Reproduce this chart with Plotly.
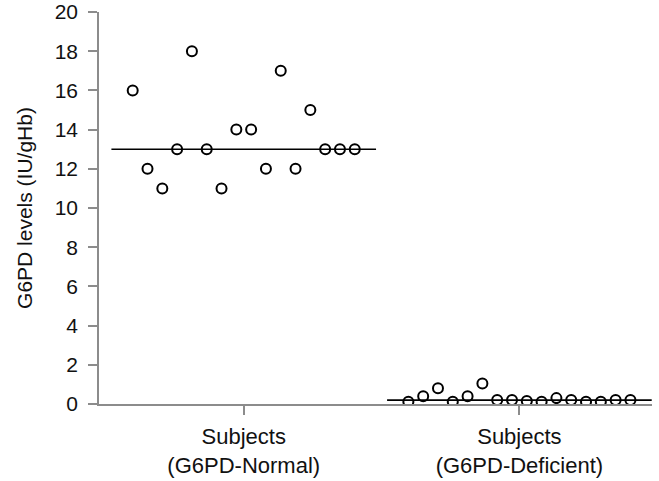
import plotly.graph_objects as go
import numpy as np

groups = ["Subjects<br>(G6PD-Normal)", "Subjects<br>(G6PD-Deficient)"]
normal_values = [16, 12, 11, 13, 18, 13, 11, 14, 14, 12, 17, 12, 15, 13, 13, 13]
deficient_values = [0.12, 0.4, 0.8, 0.12, 0.4, 1.05, 0.2, 0.2, 0.15, 0.12, 0.3, 0.2, 0.12, 0.12, 0.2, 0.2]
y_ticks = [0, 2, 4, 6, 8, 10, 12, 14, 16, 18, 20]

FONT = "Liberation Sans, Arial, sans-serif"
step = 0.0537
half = 0.48

fig = go.Figure()
for gi, vals in enumerate([normal_values, deficient_values]):
    n = len(vals)
    xs = [gi + (j - (n - 1) / 2) * step for j in range(n)]
    med = float(np.median(vals))
    fig.add_trace(go.Scatter(
        x=[gi - half, gi + half], y=[med, med], mode="lines",
        line=dict(color="black", width=1.6), hoverinfo="skip", showlegend=False))
    fig.add_trace(go.Scatter(
        x=xs, y=vals, mode="markers",
        marker=dict(symbol="circle-open", size=10, color="black", line=dict(width=2, color="black")),
        showlegend=False))

fig.update_layout(
    width=659, height=481,
    margin=dict(l=99, r=7, t=12, b=77),
    plot_bgcolor="white", paper_bgcolor="white",
    font=dict(family=FONT, size=21, color="#111111"),
)
fig.update_xaxes(
    range=[-0.525, 1.481],
    tickmode="array", tickvals=[0, 1], ticktext=groups,
    showline=True, linecolor="#8c8c8c", linewidth=1.5,
    ticks="outside", ticklen=9, tickcolor="#8c8c8c", tickwidth=1.5,
    ticklabelstandoff=3,
    showgrid=False, zeroline=False, automargin=False,
    tickfont=dict(family=FONT, size=22, color="#111111"),
)
fig.update_yaxes(
    range=[0, 20],
    tickmode="array", tickvals=y_ticks,
    showline=True, linecolor="#8c8c8c", linewidth=1.5,
    ticks="outside", ticklen=9, tickcolor="#8c8c8c", tickwidth=1.5,
    ticklabelstandoff=6, ticklabeloverflow="allow",
    showgrid=False, zeroline=False, automargin=False,
    title=dict(text="G6PD levels (IU/gHb)", font=dict(family=FONT, size=21, color="#111111"), standoff=16),
    tickfont=dict(family=FONT, size=21, color="#111111"),
)

fig.write_html("out.html", config={"displayModeBar": False},
               post_script="document.body.style.margin='0px';")
